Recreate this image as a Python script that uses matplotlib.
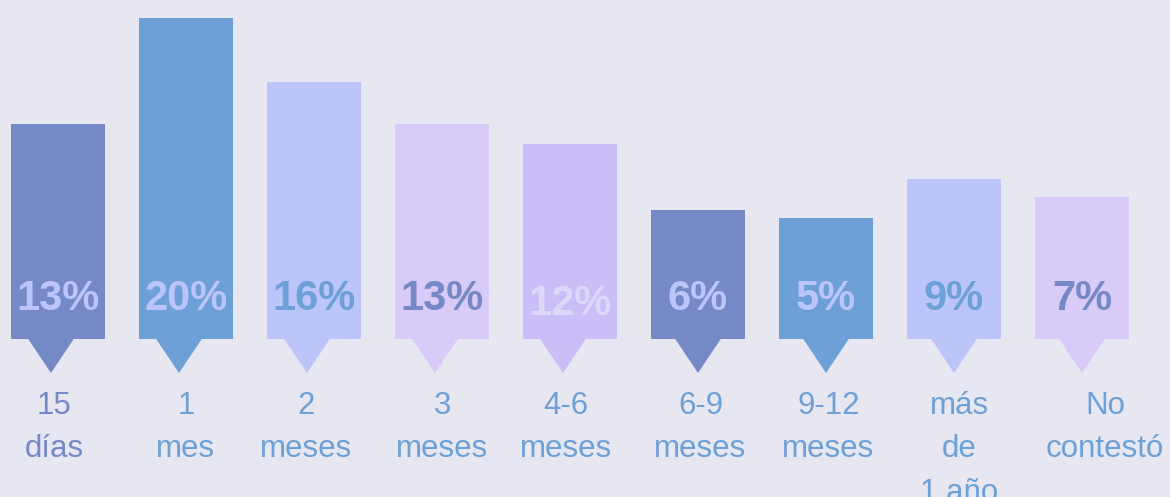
"""Bar chart with pointer tabs: tiempo de respuesta (porcentaje)."""

import matplotlib.pyplot as plt
from matplotlib.patches import Polygon

plt.rcParams["font.family"] = ["Liberation Sans", "DejaVu Sans"]

categories = ["15\ndías", "1\nmes", "2\nmeses", "3\nmeses", "4-6\nmeses",
              "6-9\nmeses", "9-12\nmeses", "más\nde\n1 año", "No\ncontestó"]
pct_labels = ["13%", "20%", "16%", "13%", "12%", "6%", "5%", "9%", "7%"]
bar_heights = [13.4, 20.0, 16.0, 13.4, 12.15, 8.05, 7.55, 10.0, 8.85]

BG = "#E7E7F1"
SLATE = "#7489C6"
BLUE = "#6CA0D6"
PERI = "#BCC5FA"
LILAC = "#D9CBF8"
VIOLET = "#CABDF8"

bar_colors = [SLATE, BLUE, PERI, LILAC, VIOLET, SLATE, BLUE, PERI, LILAC]
pct_colors = [PERI, PERI, BLUE, SLATE, "#DCD8FA", PERI, PERI, BLUE, SLATE]
cat_colors = [SLATE] + [BLUE] * 8
# small horizontal nudges seen in the original layout
pointer_shift = [-0.055] * 5 + [0.0] * 4
label_shift = [-0.03, 0.0, -0.06, 0.0, -0.03, 0.02, 0.02, 0.04, 0.18]
pct_dy = [0, 0, 0, 0, -0.3, 0, 0, 0, 0]

PX_X = 128.0   # px per category
PX_Y = 16.05   # px per percent unit
W, H = 1170, 497
X0, BASE = 58, 158

fig = plt.figure(figsize=(W / 100, H / 100), dpi=100, facecolor=BG)
ax = fig.add_axes([0, 0, 1, 1])
ax.set_facecolor(BG)
ax.set_xlim(-X0 / PX_X, (W - X0) / PX_X)
ax.set_ylim(-BASE / PX_Y, (H - BASE) / PX_Y)
ax.axis("off")

xs = list(range(len(categories)))
bw = 94 / PX_X
ax.bar(xs, bar_heights, width=bw, color=bar_colors, linewidth=0)

tri_half = 23 / PX_X
tri_depth = 34 / PX_Y
for x, c, s in zip(xs, bar_colors, pointer_shift):
    ax.add_patch(Polygon([(x + s - tri_half, 0.02), (x + s + tri_half, 0.02),
                          (x + s, -tri_depth)], closed=True, color=c, lw=0))

for x, lab, c, dy in zip(xs, pct_labels, pct_colors, pct_dy):
    ax.text(x, 40 / PX_Y + dy, lab, ha="center", va="center",
            fontsize=30, fontweight="bold", color=c)

for x, lab, c, s in zip(xs, categories, cat_colors, label_shift):
    ax.text(x + s, -52 / PX_Y, lab, ha="center", va="top",
            fontsize=22.5, color=c, linespacing=1.58)

fig.savefig("out.png", dpi=100, facecolor=BG)
